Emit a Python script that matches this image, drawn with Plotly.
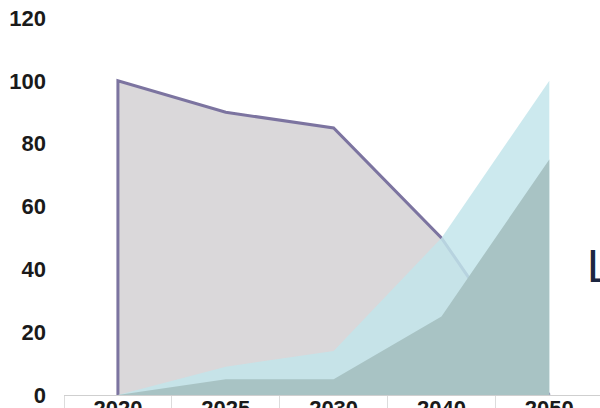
import plotly.graph_objects as go

years = ["2020", "2025", "2030", "2040", "2050"]
grey_series = [100, 90, 85, 50, 0]
cyan_series = [0, 9, 14, 50, 100]
teal_series = [0, 5, 5, 25, 75]
y_ticks = [0, 20, 40, 60, 80, 100, 120]

fig = go.Figure()

# grey area, with its outline closing down to the baseline at the first category
fig.add_trace(go.Scatter(
    x=[years[0]] + years, y=[0] + grey_series,
    mode="lines", fill="tozeroy",
    fillcolor="#dad8da",
    line=dict(color="#7c74a0", width=3),
    hoverinfo="skip", showlegend=False,
))
fig.add_trace(go.Scatter(
    x=years, y=cyan_series,
    mode="lines", fill="tozeroy",
    fillcolor="rgba(194,229,235,0.84)",
    line=dict(width=0),
    hoverinfo="skip", showlegend=False,
))
fig.add_trace(go.Scatter(
    x=years, y=teal_series,
    mode="lines", fill="tozeroy",
    fillcolor="#a8c3c4",
    line=dict(width=0),
    hoverinfo="skip", showlegend=False,
))

fig.add_annotation(
    xref="paper", yref="paper", x=0.972, y=0.342,
    xanchor="left", yanchor="middle", showarrow=False,
    text="L", font=dict(family="Liberation Sans", size=46, color="#1c2642"),
)

fig.update_layout(
    width=600, height=408,
    margin=dict(l=64, r=0, t=18, b=13),
    paper_bgcolor="white", plot_bgcolor="white",
    font=dict(family="Liberation Sans", size=22, color="#222222"),
)
fig.update_xaxes(
    type="category", categoryorder="array", categoryarray=years,
    range=[-0.5, 4.47], automargin=False,
    showgrid=False, zeroline=False,
    showline=True, linecolor="#cfcfcf", linewidth=1,
    tickson="boundaries", ticks="outside", ticklen=14, tickcolor="#dcdcdc",
    ticklabelstandoff=-6,
    tickfont=dict(family="Liberation Sans", size=22, color="#1a1a1a", weight="bold"),
)
fig.update_yaxes(
    range=[0, 120], tickvals=y_ticks, automargin=False,
    showgrid=False, zeroline=False, showline=False,
    ticklabelstandoff=17,
    tickfont=dict(family="Liberation Sans", size=22, color="#1a1a1a", weight="bold"),
)

fig.write_html("out.html")
